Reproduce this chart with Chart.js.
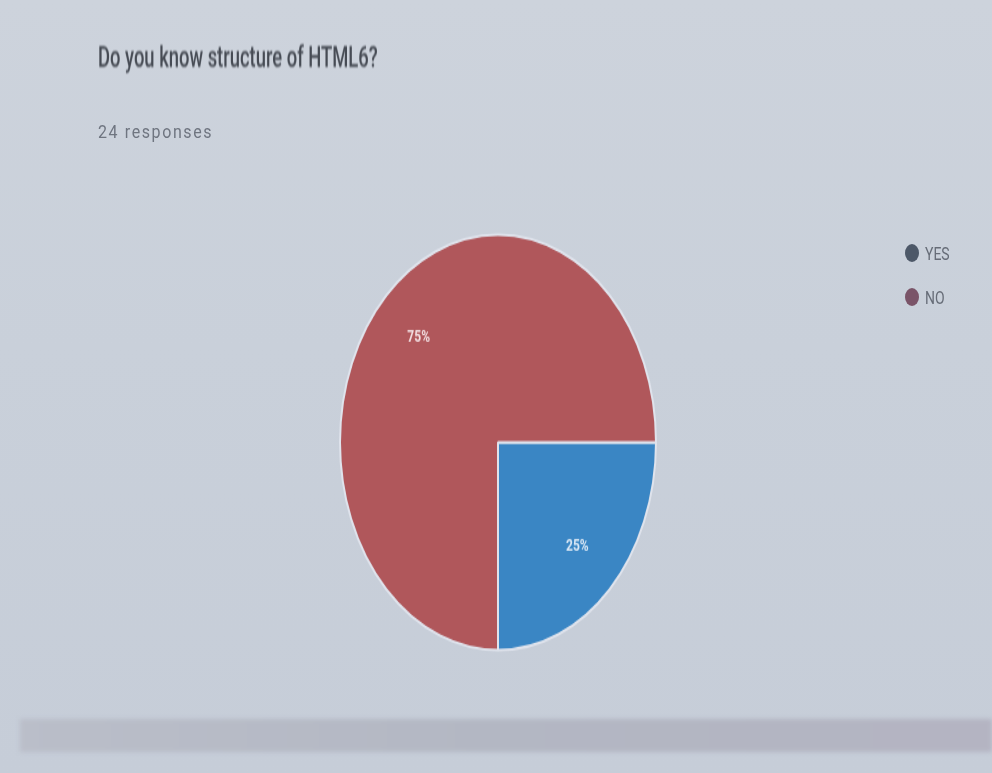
<!DOCTYPE html>
<html>
<head>
<meta charset="utf-8">
<script src="https://cdn.jsdelivr.net/npm/chart.js@4.4.1/dist/chart.umd.min.js"></script>
<style>
  html, body { margin: 0; padding: 0; }
  body {
    width: 992px; height: 773px; overflow: hidden; position: relative;
    background: linear-gradient(180deg, #cdd3dc 0%, #c9d0da 45%, #c6cdd8 100%);
    font-family: Roboto, "Noto Sans", sans-serif;
  }
  #stage {
    position: absolute; left: 0; top: 0; width: 992px; height: 588px;
    transform-origin: 0 0; transform: scaleY(1.3146);
  }
  .txt { position: absolute; white-space: nowrap; transform-origin: 0 0; filter: blur(0.6px); }
  #title { left: 98px; top: 38px; font-size: 20px; font-weight: 500; color: #464b54; transform: scale(0.92, 1.5); }
  #sub { left: 98px; top: 121px; font-size: 16px; letter-spacing: 1.6px; color: #6f7580; transform: scale(1, 1.1); }
  .leg { position: absolute; left: 905px; font-size: 14px; color: #666c77; filter: blur(0.6px); }
  .leg i { position: absolute; left: 0; top: 0; width: 14px; height: 18px; border-radius: 50%; }
  .leg span { position: absolute; left: 20px; top: -1px; transform-origin: 0 0; transform: scaleY(1.3); }
  #band {
    position: absolute; left: 20px; right: 0; top: 719px; height: 33px;
    background: linear-gradient(90deg, #babec9 0%, #b3b7c3 50%, #b4b4c2 100%);
    filter: blur(2px);
  }
</style>
</head>
<body>
<div id="title" class="txt">Do you know structure of HTML6?</div>
<div id="sub" class="txt">24 responses</div>
<div id="legend"></div>
<div id="stage"><canvas id="pie" width="992" height="588"></canvas></div>
<div id="band"></div>
<script>
const labels = ['YES', 'NO'];
const counts = [6, 18];
const sliceColors = ['#3a86c4', '#b0575b'];
const legendColors = ['#4d5868', '#7a5468'];

// legend on the right, one row per answer
const legend = document.getElementById('legend');
labels.forEach((name, i) => {
  const row = document.createElement('div');
  row.className = 'leg';
  row.style.top = (244 + i * 44) + 'px';
  row.innerHTML = '<i style="background:' + legendColors[i] + '"></i><span>' + name + '</span>';
  legend.appendChild(row);
});

// percentage text inside each slice
const sliceLabels = {
  id: 'sliceLabels',
  afterDatasetsDraw(chart) {
    const ctx = chart.ctx;
    const total = counts.reduce((a, b) => a + b, 0);
    const meta = chart.getDatasetMeta(0);
    ctx.save();
    ctx.font = 'bold 12px Roboto, sans-serif';
    ctx.textAlign = 'center';
    ctx.textBaseline = 'middle';
    meta.data.forEach((arc, i) => {
      const p = arc.getProps(['x', 'y', 'startAngle', 'endAngle', 'outerRadius']);
      const mid = (p.startAngle + p.endAngle) / 2;
      const r = p.outerRadius * 0.71;
      ctx.fillStyle = i === 0 ? '#dbe8f5' : '#f2dfe2';
      ctx.fillText(Math.round(counts[i] / total * 100) + '%', p.x + Math.cos(mid) * r, p.y + Math.sin(mid) * r);
    });
    ctx.restore();
  }
};

new Chart(document.getElementById('pie'), {
  type: 'pie',
  data: {
    labels: labels,
    datasets: [{
      data: counts,
      backgroundColor: sliceColors,
      borderColor: '#dfe3ec',
      borderWidth: 2
    }]
  },
  options: {
    responsive: false,
    animation: false,
    rotation: 90,
    layout: { padding: { left: 339, right: 335, top: 177, bottom: 92 } },
    plugins: { legend: { display: false }, tooltip: { enabled: false } }
  },
  plugins: [sliceLabels]
});
</script>
</body>
</html>
